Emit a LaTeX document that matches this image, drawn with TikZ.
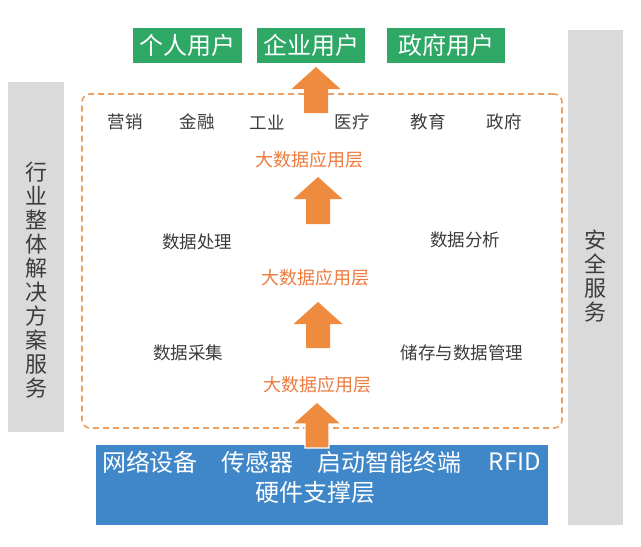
\documentclass[tikz,border=0pt]{standalone}
\usepackage{fontspec}
\setmainfont{Noto Sans CJK SC}
\usetikzlibrary{calc}
\definecolor{ugreen}{HTML}{2FA866}
\definecolor{ublue}{HTML}{3F87C9}
\definecolor{ugray}{HTML}{DADADA}
\definecolor{arrowor}{HTML}{EF8B3E}
\definecolor{layeror}{HTML}{EE7B3E}
\definecolor{frameor}{HTML}{EAA063}
\definecolor{dtext}{HTML}{3C3C3C}
\newcommand\blockarrow[3][]{%
  \path[#1] let \p1=(#2), \p2=(#3) in
    (\x1-12pt,\y1) -- (\x1-12pt,\y2-22pt) -- (\x1-24.5pt,\y2-22pt) -- (\x2,\y2)
    -- (\x1+24.5pt,\y2-22pt) -- (\x1+12pt,\y2-22pt) -- (\x1+12pt,\y1) -- cycle;}
\tikzset{
  userbox/.style={fill=ugreen, text=white, minimum height=35pt, inner sep=0pt,
    font=\fontsize{24}{24}\selectfont},
  sidebar/.style={fill=ugray, inner sep=0pt},
  sidetext/.style={text=dtext, align=center, inner sep=0pt,
    font=\fontsize{22}{24}\selectfont},
  cat/.style={text=dtext, inner sep=0pt, font=\fontsize{17.5}{18}\selectfont},
  layer/.style={text=layeror, inner sep=0pt, font=\fontsize{18}{18}\selectfont},
  frame/.style={draw=frameor, line width=1.6pt, dash pattern=on 6pt off 4pt,
    rounded corners=8pt, inner sep=0pt},
  hwbox/.style={fill=ublue, inner sep=0pt},
  hwtext/.style={text=white, inner sep=0pt, font=\fontsize{24}{24}\selectfont},
}
\begin{document}
\begin{tikzpicture}[x=1pt,y=-1pt]
\fill[white] (0,0) rectangle (641,547);
\useasboundingbox (0,0) rectangle (641,547);

% side bars
\node[sidebar, minimum width=56pt, minimum height=350pt] (lbar) at (36,257) {};
\node[sidetext] (ltext) at (36,280) {行\\业\\整\\体\\解\\决\\方\\案\\服\\务};
\node[sidebar, minimum width=55pt, minimum height=495pt] (rbar) at (595.5,277.5) {};
\node[sidetext] (rtext) at (595.5,276) {安\\全\\服\\务};

% users
\node[userbox, minimum width=109pt] (u1) at (187.5,45.5) {个人用户};
\node[userbox, minimum width=108pt] (u2) at (311,45.5) {企业用户};
\node[userbox, minimum width=118pt] (u3) at (446,45.5) {政府用户};

% dashed frame
\node[frame, minimum width=480pt, minimum height=334pt] (frm) at (322,261) {};

% industries
\node[cat] (c1) at (125,122) {营销};
\node[cat] (c2) at (197,122) {金融};
\node[cat] (c3) at (267,122) {工业};
\node[cat] (c4) at (352,122) {医疗};
\node[cat] (c5) at (428,122) {教育};
\node[cat] (c6) at (504,122) {政府};

% layers
\node[layer] (l1) at (309,160) {大数据应用层};
\node[layer] (l2) at (315,278) {大数据应用层};
\node[layer] (l3) at (317,385) {大数据应用层};

\node[cat] (p1) at (197,242) {数据处理};
\node[cat] (p2) at (465,240) {数据分析};
\node[cat] (p3) at (188,353) {数据采集};
\node[cat] (p4) at (462,353) {储存与数据管理};

% hardware
\node[hwbox, minimum width=452pt, minimum height=80pt] (hw) at (322,484.5) {};
\node[hwtext] (h1) at (150,462) {网络设备};
\node[hwtext] (h2) at (257,462) {传感器};
\node[hwtext] (h3) at (389,462) {启动智能终端};
\node[hwtext] (h4) at (515,462) {RFID};
\node[hwtext] (h5) at (315,492) {硬件支撑层};

% arrows
\coordinate (a0s) at (316,113); \coordinate (a0e) at (316,67);
\coordinate (a1s) at (318,224); \coordinate (a1e) at (318,177);
\coordinate (a2s) at (318,348); \coordinate (a2e) at (318,302);
\coordinate (a3s) at (317,448); \coordinate (a3e) at (317,402);
\blockarrow[fill=arrowor]{a0s}{a0e}
\blockarrow[fill=arrowor]{a1s}{a1e}
\blockarrow[fill=arrowor]{a2s}{a2e}
\blockarrow[fill=arrowor, draw=white, line width=1.2pt]{a3s}{a3e}
\end{tikzpicture}
\end{document}
